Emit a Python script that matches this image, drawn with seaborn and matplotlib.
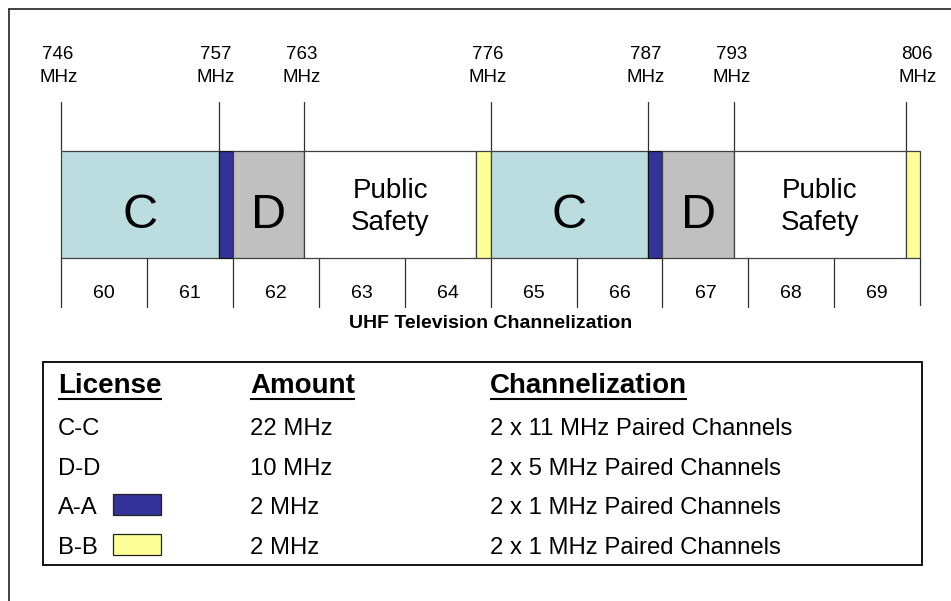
import matplotlib
matplotlib.use("Agg")
import matplotlib.pyplot as plt
from matplotlib.patches import Rectangle
import seaborn as sns
import pandas as pd

# ---------------- data ----------------
block_kind = ["C", "A", "D", "PS", "B", "C", "A", "D", "PS", "B"]
block_start = [746, 757, 758, 763, 775, 776, 787, 788, 793, 805]
block_end = [757, 758, 763, 775, 776, 787, 788, 793, 805, 806]
kind_label = {"C": "C", "D": "D", "PS": "Public\nSafety", "A": "", "B": ""}
kind_color = {"C": "#BBDDE0", "A": "#333399", "D": "#C0C0C0", "PS": "#FFFFFF", "B": "#FFFF99"}

freq_labels = ["746\nMHz", "757\nMHz", "763\nMHz", "776\nMHz", "787\nMHz", "793\nMHz", "806\nMHz"]
freq_label_pos = [746, 757, 763, 776, 787, 793, 806]
freq_tick_pos = [746, 757, 763, 776, 787, 793, 805]

channels = [60, 61, 62, 63, 64, 65, 66, 67, 68, 69]
channel_low = [746, 752, 758, 764, 770, 776, 782, 788, 794, 800]
channel_high = [752, 758, 764, 770, 776, 782, 788, 794, 800, 806]
chart_title = "UHF Television Channelization"

legend_headers = ["License", "Amount", "Channelization"]
license_names = ["C-C", "D-D", "A-A", "B-B"]
license_amounts = ["22 MHz", "10 MHz", "2 MHz", "2 MHz"]
license_channelization = ["2 x 11 MHz Paired Channels", "2 x 5 MHz Paired Channels",
                          "2 x 1 MHz Paired Channels", "2 x 1 MHz Paired Channels"]
license_swatch = [None, None, "A", "B"]

# ---------------- style ----------------
sns.set_theme(style="white")
plt.rcParams["font.family"] = ["Liberation Sans", "DejaVu Sans"]

W, H = 951, 601
fig = plt.figure(figsize=(W / 100, H / 100), dpi=100)
fig.patch.set_facecolor("white")

# axis for band plan: x in MHz, y in pixels
px_per_mhz = 14.32
x0_px = 61
ax = fig.add_axes([0, 0, 1, 1])
ax.set_xlim(746 - x0_px / px_per_mhz, 746 + (W - x0_px) / px_per_mhz)
ax.set_ylim(H, 0)
ax.axis("off")

# overlay axis in pixel units for layout items
lay = fig.add_axes([0, 0, 1, 1])
lay.set_xlim(0, W)
lay.set_ylim(H, 0)
lay.axis("off")
lay.patch.set_alpha(0)

blocks = pd.DataFrame({"kind": block_kind, "start": block_start, "end": block_end})
blocks["width"] = blocks["end"] - blocks["start"]

band_top, band_bot = 151, 258
for _, r in blocks.iterrows():
    ec = "#111111" if r.kind == "A" else "#404040"
    ax.barh((band_top + band_bot) / 2, r.width, left=r.start, height=band_bot - band_top,
            color=kind_color[r.kind], edgecolor=ec, linewidth=0.9, zorder=2)
    lab = kind_label[r.kind]
    cx = (r.start + r.end) / 2
    if lab in ("C", "D"):
        ax.text(cx, 228, lab, ha="center", va="baseline", fontsize=35, color="black", zorder=3)
    elif lab:
        l1, l2 = lab.split("\n")
        ax.text(cx, 198, l1, ha="center", va="baseline", fontsize=20, color="black", zorder=3)
        ax.text(cx, 230, l2, ha="center", va="baseline", fontsize=20, color="black", zorder=3)

# top frequency markers
for lab, pos, tpos in zip(freq_labels, freq_label_pos, freq_tick_pos):
    a, b = lab.split("\n")
    ax.text(pos - 0.2, 59, a, ha="center", va="baseline", fontsize=13.5, color="black")
    ax.text(pos - 0.2, 82, b, ha="center", va="baseline", fontsize=13.5, color="black")
    ax.plot([tpos, tpos], [102, 150], color="#303030", lw=0.9, zorder=1)

# channel dividers and numbers
for ch, lo, hi in zip(channels, channel_low, channel_high):
    ax.plot([lo, lo], [258, 307], color="#303030", lw=0.9, zorder=1)
    ax.text((lo + hi) / 2, 298, str(ch), ha="center", va="baseline", fontsize=14, color="black")
ax.plot([channel_high[-1]] * 2, [258, 305], color="#303030", lw=0.9, zorder=1)
ax.text((channel_low[0] + channel_high[-1]) / 2, 328, chart_title, ha="center", va="baseline",
        fontsize=14, fontweight="bold", color="black")

# outer border (top and left)
lay.plot([9, 9], [9, H], color="#222222", lw=1.2)
lay.plot([9, W], [9, 9], color="#222222", lw=1.2)

# legend table
lay.add_patch(Rectangle((43, 362), 922 - 43, 565 - 362, fill=False, edgecolor="black", lw=1.3))
col_x = [58, 250, 490]
hdr_texts = []
for hx, htxt in zip(col_x, legend_headers):
    hdr_texts.append(lay.text(hx, 393, htxt, ha="left", va="baseline", fontsize=20,
                              fontweight="bold", color="black"))
row_base = [435, 475, 514.5, 554]
for yb, nm, am, chz, sw in zip(row_base, license_names, license_amounts, license_channelization, license_swatch):
    lay.text(col_x[0], yb, nm, ha="left", va="baseline", fontsize=17.2, color="black")
    lay.text(col_x[1], yb, am, ha="left", va="baseline", fontsize=17.2, color="black")
    lay.text(col_x[2], yb, chz, ha="left", va="baseline", fontsize=17.2, color="black")
    if sw:
        lay.add_patch(Rectangle((113, yb - 20.5), 48, 21, facecolor=kind_color[sw],
                                edgecolor="#222222", lw=0.9))

# underline the headers
fig.canvas.draw()
renderer = fig.canvas.get_renderer()
inv = lay.transData.inverted()
for t in hdr_texts:
    bb = t.get_window_extent(renderer)
    (xa, _), (xb, _) = inv.transform([[bb.x0, 0], [bb.x1, 0]])
    lay.plot([xa, xb], [399, 399], color="black", lw=1.5, solid_capstyle="butt")

fig.savefig("out.png", dpi=100)
